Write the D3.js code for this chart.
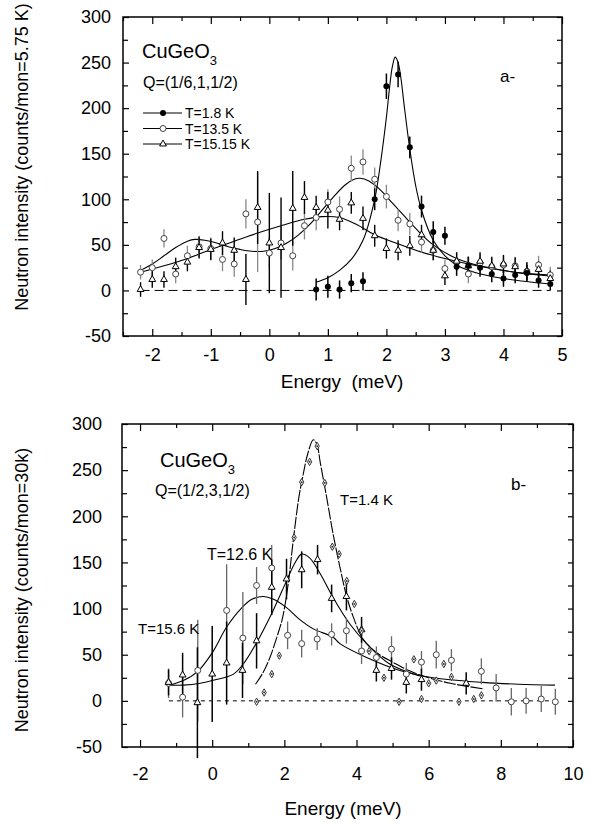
<!DOCTYPE html>
<html>
<head>
<meta charset="utf-8">
<script src="https://cdn.jsdelivr.net/npm/d3@7"></script>
<style>
  body { margin: 0; background: #fff; }
  svg { display: block; }
</style>
</head>
<body>
<svg id="chart" width="595" height="825"></svg>
<script>
const FONT = '"Liberation Sans", Arial, Helvetica, sans-serif';

// ---------- Panel a: CuGeO3, Q=(1/6,1,1/2) ----------
const aXTicks = [-2, -1, 0, 1, 2, 3, 4, 5];
const aXMinor = [-2.5, -1.5, -0.5, 0.5, 1.5, 2.5, 3.5, 4.5];
const aYTicks = [-50, 0, 50, 100, 150, 200, 250, 300];
const aYMinor = [-25, 25, 75, 125, 175, 225, 275];

// T = 1.8 K
const aE18   = [0.8, 1.0, 1.2, 1.4, 1.6, 1.8, 2.0, 2.2, 2.4, 2.6, 2.8, 3.0, 3.2, 3.4, 3.6, 3.8, 4.0, 4.2, 4.4, 4.6, 4.8];
const aV18   = [1, 4, 1, 8, 10, 100, 224, 237, 157, 92, 64, 60, 26, 27, 25, 18, 13, 17, 19, 11, 7];
const aErr18 = [12, 12, 10, 10, 10, 12, 14, 14, 12, 12, 12, 10, 10, 10, 10, 9, 9, 9, 9, 8, 7];

// energy grid shared by T = 13.5 K and T = 15.15 K
const aE = [-2.2, -2.0, -1.8, -1.6, -1.4, -1.2, -1.0, -0.8, -0.6, -0.4, -0.2, 0.0, 0.2, 0.4, 0.6, 0.8, 1.0, 1.2,
            1.4, 1.6, 1.8, 2.0, 2.2, 2.4, 2.6, 2.8, 3.0, 3.2, 3.4, 3.6, 3.8, 4.0, 4.2, 4.4, 4.6, 4.8];
const aV135   = [20, 25, 57, 18, 38, 48, 46, 34, 29, 84, 75, 41, 52, 38, 71, 80, 97, 89,
                 134, 141, 122, 103, 77, 73, 53, 44, 24, 31, 18, 30, 26, 28, 27, 21, 28, 17];
const aErr135 = [8, 9, 10, 10, 11, 12, 12, 13, 14, 16, 55, 18, 18, 16, 15, 14, 14, 14,
                 14, 14, 13, 13, 12, 12, 12, 11, 10, 10, 10, 10, 10, 10, 10, 10, 10, 9];
const aV1515   = [1, 12, 12, 26, 31, 47, 45, 52, 44, 12, 91, 52, 47, 90, 102, 91, 88, 78,
                  96, 79, 60, 46, 44, 49, 61, 44, 16, 32, 27, 32, 27, 29, 26, 21, 23, 13];
const aErr1515 = [8, 9, 9, 10, 10, 12, 12, 13, 14, 28, 40, 55, 55, 41, 18, 13, 20, 12,
                  12, 13, 12, 11, 11, 11, 11, 11, 10, 10, 10, 10, 10, 10, 10, 10, 9, 9];

// fitted line shapes
const aFit18E = [0.8, 1.0, 1.2, 1.4, 1.6, 1.8, 1.9, 2.0, 2.05, 2.1, 2.15, 2.2, 2.25, 2.3, 2.4, 2.5, 2.6, 2.8, 3.0, 3.2, 3.5, 4.0, 4.5, 4.8];
const aFit18V = [9, 14, 22, 34, 55, 100, 140, 190, 220, 245, 256, 250, 232, 205, 155, 115, 88, 55, 38, 28, 20, 13, 9, 7];
const aFit135E = [-2.2, -2.0, -1.8, -1.6, -1.4, -1.27, -1.1, -0.9, -0.7, -0.5, -0.3, -0.1, 0.1, 0.3, 0.5, 0.7,
                  0.9, 1.1, 1.3, 1.45, 1.55, 1.7, 1.9, 2.1, 2.3, 2.5, 2.8, 3.2, 3.6, 4.2, 4.8];
const aFit135V = [22, 29, 38, 47, 54, 56, 55, 52, 48, 45, 43, 43, 46, 52, 61, 73,
                  88, 103, 116, 122, 123, 120, 110, 96, 82, 68, 50, 35, 27, 20, 17];
const aFit1515E = [-2.2, -1.8, -1.4, -1.0, -0.6, -0.2, 0.2, 0.6, 0.9, 1.2, 1.5, 1.8, 2.2, 2.6, 3.0, 3.4, 3.8, 4.3, 4.8];
const aFit1515V = [20, 27, 35, 45, 54, 63, 71, 78, 81, 80, 72, 61, 51, 42, 35, 29, 24, 19, 16];

// ---------- Panel b: CuGeO3, Q=(1/2,3,1/2) ----------
const bXTicks = [-2, 0, 2, 4, 6, 8, 10];
const bXMinor = [-1, 1, 3, 5, 7, 9];
const bYTicks = [-50, 0, 50, 100, 150, 200, 250, 300];
const bYMinor = [-25, 25, 75, 125, 175, 225, 275];

// T = 1.4 K
const bE14 = [1.23, 1.44, 1.65, 1.86, 2.27, 2.48, 2.70, 2.91, 3.12, 3.33, 3.52, 3.73, 3.94, 4.14, 4.35,
              4.76, 5.18, 5.59, 5.80, 6.00, 6.21, 6.42, 6.63, 6.84, 7.25, 7.46];
const bV14 = [-1, 9, 29, 49, 177, 237, 259, 276, 236, 167, 159, 130, 105, 76, 54,
              25, -1, 45, 2, 19, 22, 40, 26, -1, 2, 6];

// T = 12.6 K
const bE126   = [-1.21, -0.82, -0.41, 0.00, 0.40, 0.84, 1.23, 1.65, 2.06, 2.48, 2.92, 3.31, 3.72, 4.14, 4.55, 4.97, 5.38, 5.80, 7.04];
const bV126   = [20, 28, -2, 29, 41, 33, 65, 123, 132, 142, 153, 111, 113, 77, 33, 35, 20, 23, 19];
const bErr126 = [14, 24, 60, 52, 45, 30, 30, 30, 22, 20, 16, 15, 15, 14, 12, 12, 12, 12, 12];

// T = 15.6 K
const bE156   = [-1.21, -0.82, -0.40, 0.40, 0.85, 1.23, 1.65, 2.09, 2.48, 2.91, 3.31, 3.72, 4.14, 4.55, 4.97,
                 5.38, 5.80, 6.21, 6.63, 7.46, 7.87, 8.29, 8.70, 9.12, 9.51];
const bV156   = [19, 4, 33, 98, 68, 125, 144, 71, 62, 67, 72, 76, 54, 47, 56,
                 29, 42, 50, 44, 32, 14, -1, 0, 2, -1];
const bErr156 = [16, 22, 55, 50, 50, 20, 25, 15, 15, 12, 12, 14, 14, 12, 14,
                 12, 12, 15, 12, 14, 15, 15, 14, 14, 14];

// fitted line shapes
const bFit14E = [1.2, 1.4, 1.6, 1.8, 1.95, 2.1, 2.25, 2.4, 2.52, 2.65, 2.8, 2.9, 3.0, 3.17, 3.35, 3.54, 3.72, 3.91, 4.18,
                 4.6, 5.0, 5.5, 6.0, 6.6, 7.5];
const bFit14V = [18, 30, 47, 70, 90, 125, 175, 220, 245, 268, 283, 278, 257, 221, 181, 145, 114, 91, 67,
                 51, 42, 32, 25, 19, 13];
const bFit126E = [-1.2, -0.8, -0.33, 0.0, 0.59, 0.9, 1.23, 1.69, 2.06, 2.3, 2.48, 2.7, 2.99, 3.35, 3.82, 4.28, 4.92, 5.75];
const bFit126V = [17, 17, 19, 22, 29, 42, 63, 98, 130, 150, 159, 155, 138, 112, 83, 62, 40, 27];
const bFit156E = [-1.2, -0.8, -0.4, 0.0, 0.4, 0.8, 1.1, 1.42, 1.7, 2.06, 2.43, 2.8, 3.35, 3.54, 4.28, 5.2, 6.12, 7.5, 8.5, 9.5];
const bFit156V = [17, 22, 32, 52, 80, 100, 110, 113, 110, 101, 88, 78, 69, 62, 47, 33, 25, 20, 18, 17];

const svg = d3.select("#chart");
const zip = (E, V) => E.map((e, i) => [e, V[i]]);

function styleAxis(sel, size) {
  sel.select(".domain").remove();
  sel.selectAll(".tick line").attr("stroke", "#000").attr("stroke-width", 1.2);
  sel.attr("font-family", FONT).attr("font-size", size);
  sel.selectAll("text").attr("fill", "#000");
}

function makePanel(o) {
  const x = d3.scaleLinear().domain(o.xDomain).range([o.x0, o.x1]);
  const y = d3.scaleLinear().domain(o.yDomain).range([o.y1, o.y0]);
  const g = svg.append("g");
  const fmt = d => String(d);

  // axes with inward ticks on all four sides
  styleAxis(g.append("g").attr("transform", `translate(0,${o.y1})`)
    .call(d3.axisBottom(x).tickValues(o.xTicks).tickFormat(fmt).tickSize(-7).tickPadding(o.pad)), 18);
  styleAxis(g.append("g").attr("transform", `translate(0,${o.y1})`)
    .call(d3.axisBottom(x).tickValues(o.xMinor).tickFormat("").tickSize(-4)), 18);
  styleAxis(g.append("g").attr("transform", `translate(0,${o.y0})`)
    .call(d3.axisTop(x).tickValues(o.xTicks).tickFormat("").tickSize(-7)), 18);
  styleAxis(g.append("g").attr("transform", `translate(0,${o.y0})`)
    .call(d3.axisTop(x).tickValues(o.xMinor).tickFormat("").tickSize(-4)), 18);
  styleAxis(g.append("g").attr("transform", `translate(${o.x0},0)`)
    .call(d3.axisLeft(y).tickValues(o.yTicks).tickFormat(fmt).tickSize(-6).tickPadding(o.pad)), 18);
  styleAxis(g.append("g").attr("transform", `translate(${o.x0},0)`)
    .call(d3.axisLeft(y).tickValues(o.yMinor).tickFormat("").tickSize(-5)), 18);
  styleAxis(g.append("g").attr("transform", `translate(${o.x1},0)`)
    .call(d3.axisRight(y).tickValues(o.yTicks.concat(o.yMinor)).tickFormat("").tickSize(-5)), 18);

  // frame
  g.append("rect").attr("x", o.x0).attr("y", o.y0)
    .attr("width", o.x1 - o.x0).attr("height", o.y1 - o.y0)
    .attr("fill", "none").attr("stroke", "#000").attr("stroke-width", 1.5);

  // zero reference line
  g.append("line")
    .attr("x1", x(o.zeroFrom)).attr("x2", x(o.zeroTo))
    .attr("y1", y(0)).attr("y2", y(0))
    .attr("stroke", "#000").attr("stroke-width", 1).attr("stroke-dasharray", o.zeroDash);

  return { g, x, y };
}

function drawFit(p, E, V, dash) {
  const line = d3.line().x(d => p.x(d[0])).y(d => p.y(d[1])).curve(d3.curveCatmullRom.alpha(0.5));
  p.g.append("path").datum(zip(E, V))
    .attr("d", line).attr("fill", "none").attr("stroke", "#000")
    .attr("stroke-width", 1.1).attr("stroke-dasharray", dash || null);
}

function drawErr(p, E, V, err, color, width) {
  p.g.append("g").selectAll("line").data(E.map((e, i) => [e, V[i], err[i]])).join("line")
    .attr("x1", d => p.x(d[0])).attr("x2", d => p.x(d[0]))
    .attr("y1", d => p.y(d[1] - d[2])).attr("y2", d => p.y(d[1] + d[2]))
    .attr("stroke", color).attr("stroke-width", width);
}

function marker(sel, kind) {
  if (kind === "filled") {
    sel.append("circle").attr("r", 3).attr("fill", "#000");
  } else if (kind === "open") {
    sel.append("circle").attr("r", 3).attr("fill", "#fff").attr("stroke", "#444").attr("stroke-width", 1);
  } else if (kind === "tri") {
    sel.append("path").attr("d", d3.symbol(d3.symbolTriangle, 20)())
      .attr("fill", "#fff").attr("stroke", "#000").attr("stroke-width", 1);
  } else if (kind === "diamond") {
    sel.append("path").attr("d", d3.symbol(d3.symbolDiamond, 16)())
      .attr("fill", "#fff").attr("stroke", "#333").attr("stroke-width", 1);
    sel.append("circle").attr("r", 1).attr("fill", "#333");
  }
}

function drawPoints(p, E, V, kind) {
  p.g.append("g").selectAll("g").data(zip(E, V)).join("g")
    .attr("transform", d => `translate(${p.x(d[0])},${p.y(d[1])})`)
    .each(function () { marker(d3.select(this), kind); });
}

function text(t, x, y, size, opts = {}) {
  const el = svg.append("text").attr("x", x).attr("y", y)
    .attr("font-family", FONT).attr("font-size", size).attr("fill", "#000")
    .attr("text-anchor", opts.anchor || "start");
  if (opts.rotate) el.attr("transform", `rotate(-90,${x},${y})`);
  el.text(t);
  return el;
}

function formula(x, y, size, subSize, subDy) {
  const el = svg.append("text").attr("x", x).attr("y", y)
    .attr("font-family", FONT).attr("font-size", size).attr("fill", "#000");
  el.append("tspan").text("CuGeO");
  el.append("tspan").attr("font-size", subSize).attr("dy", subDy).text("3");
}

// ---------- draw panel a ----------
const pa = makePanel({
  xDomain: [-2.5, 5], yDomain: [-50, 300],
  x0: 123, x1: 562, y0: 17, y1: 336, pad: 12,
  xTicks: aXTicks, xMinor: aXMinor, yTicks: aYTicks, yMinor: aYMinor,
  zeroFrom: -2.2, zeroTo: 4.8, zeroDash: "9,5"
});
drawFit(pa, aFit135E, aFit135V);
drawFit(pa, aFit1515E, aFit1515V);
drawFit(pa, aFit18E, aFit18V);
drawErr(pa, aE, aV135, aErr135, "#888", 1.3);
drawErr(pa, aE, aV1515, aErr1515, "#000", 1.4);
drawErr(pa, aE18, aV18, aErr18, "#000", 1.5);
drawPoints(pa, aE, aV135, "open");
drawPoints(pa, aE, aV1515, "tri");
drawPoints(pa, aE18, aV18, "filled");

formula(142, 58, 20, 13, 7);
text("Q=(1/6,1,1/2)", 143, 88, 16);
const legendRows = [["T=1.8 K", "filled"], ["T=13.5 K", "open"], ["T=15.15 K", "tri"]];
legendRows.forEach((r, i) => {
  const cy = 113 + i * 15.5;
  svg.append("line").attr("x1", 143).attr("x2", 182).attr("y1", cy).attr("y2", cy)
    .attr("stroke", "#000").attr("stroke-width", 1);
  const m = svg.append("g").attr("transform", `translate(163,${cy})`);
  marker(m, r[1]);
  text(r[0], 185, cy + 5, 14);
});
text("a-", 500, 82, 17);
text("Energy\u00a0\u00a0(meV)", 342, 388, 19, { anchor: "middle" });
text("Neutron intensity (counts/mon=5.75 K)", 28, 157, 18, { anchor: "middle", rotate: true });

// ---------- draw panel b ----------
const pb = makePanel({
  xDomain: [-2.5, 10], yDomain: [-50, 300],
  x0: 122, x1: 573, y0: 424, y1: 747, pad: 20,
  xTicks: bXTicks, xMinor: bXMinor, yTicks: bYTicks, yMinor: bYMinor,
  zeroFrom: -1.2, zeroTo: 9.5, zeroDash: "4,4"
});
drawFit(pb, bFit156E, bFit156V);
drawFit(pb, bFit126E, bFit126V);
drawFit(pb, bFit14E, bFit14V, "12,1.5");
drawErr(pb, bE156, bV156, bErr156, "#666", 1.3);
drawErr(pb, bE126, bV126, bErr126, "#000", 1.5);
drawPoints(pb, bE156, bV156, "open");
drawPoints(pb, bE126, bV126, "tri");
drawPoints(pb, bE14, bV14, "diamond");

formula(160, 467, 20, 13, 7);
text("Q=(1/2,3,1/2)", 155, 496, 16);
text("T=1.4 K", 340, 505, 15);
text("b-", 511, 490, 17);
text("T=12.6 K", 207, 560, 16);
text("T=15.6 K", 138, 634, 15);
text("Energy (meV)", 343, 815, 19, { anchor: "middle" });
text("Neutron intensity (counts/mon=30k)", 28, 590, 18, { anchor: "middle", rotate: true });
</script>
</body>
</html>
